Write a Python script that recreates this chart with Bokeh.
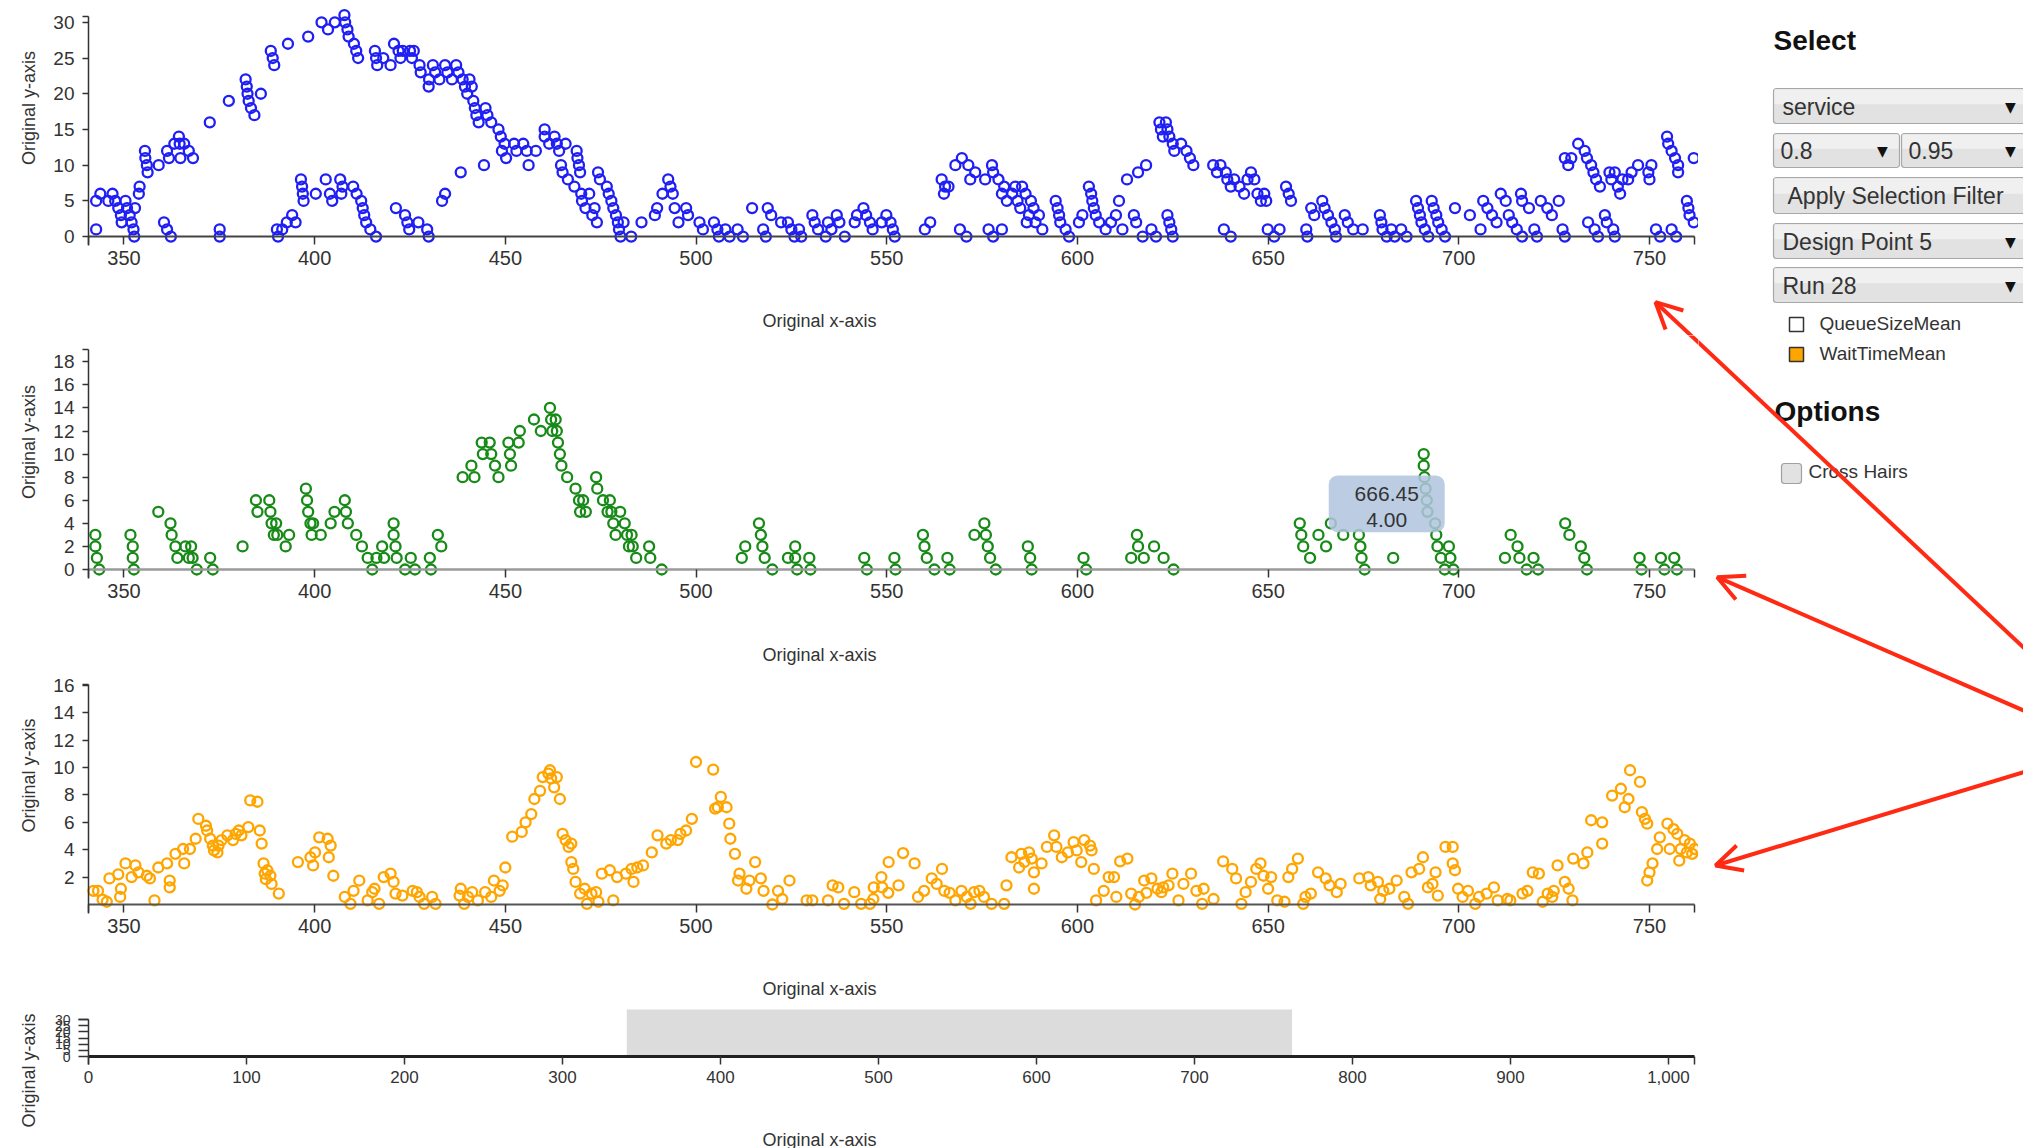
import math
from bokeh.plotting import figure
from bokeh.models import (Range1d, FixedTicker, Label, Arrow, OpenHead,
                          BoxAnnotation, NumeralTickFormatter)
from bokeh.layouts import column, row
from bokeh.embed import file_html
from bokeh.resources import INLINE
from bokeh.core.properties import value

# ---------------- data ----------------
service_points = [
    (342.7,5),(342.7,1),(343.8,6),(345.9,5),(347,6),(347.7,5),(348.5,4),(349.2,3),(349.4,2),(350.4,5),
    (350.8,4),(351.5,3),(352,2),(352.5,1),(352.7,0),(352.9,4),(353.9,6),(354.1,7),(355.5,12),(355.6,11),
    (356,10),(356.2,9),(359.1,10),(360.5,2),(361.3,1),(362.3,0),(361.3,12),(361.8,11),(363.2,13),(364.4,14),
    (364.6,13),(364.8,11),(365.8,13),(367,12),(368.1,11),(372.5,16),(375.1,1),(375.1,0),(377.5,19),(381.9,22),
    (382.2,21),(382.4,20),(382.7,19),(383.3,18),(384.2,17),(385.9,20),(388.5,26),(389,25),(389.4,24),(390.1,1),
    (390.4,0),(391.5,1),(392.7,2),(394.1,3),(395,2),(393,27),(396.4,8),(396.7,7),(396.9,6),(397.1,5),
    (398.3,28),(400.3,6),(401.8,30),(403.5,29),(405.3,30),(402.9,8),(404,6),(404.6,5),(406.7,8),(407.3,7),
    (407,6),(407.8,31),(408,30),(408.6,29),(408.9,28),(410.3,27),(410.9,26),(411.4,25),(410.1,7),(411,6),
    (412.2,5),(412.6,4),(413,3),(413.5,2),(414.6,1),(416.1,0),(415.8,26),(416.1,25),(416.4,24),(418,25),
    (419.9,24),(420.8,27),(421.3,4),(422,26),(422.5,25),(423.1,26),(423.7,3),(424.3,2),(424.8,1),(425,26),
    (425.5,25),(426,26),(427.2,2),(427.5,24),(427.8,23),(429.5,1),(429.9,0),(429.9,21),(430,22),(431,24),
    (431.6,23),(432.7,22),(433.4,5),(434.2,6),(434.2,24),(434.8,23),(436,22),(437.1,24),(437.7,23),(438.3,9),
    (438.8,22),(439.4,21),(440,20),(440.6,22),(441.2,21),(441.6,19),(442,18),(442.4,17),(443,16),(444.4,10),
    (444.8,18),(445.3,17),(446.3,16),(448.2,15),(448.8,14),(449.1,12),(449.8,13),(450.2,11),(452.3,13),(452.9,12),
    (454.7,13),(455.6,12),(456.1,10),(458,12),(460.3,15),(460.3,14),(461.5,13),(462.9,14),(463.5,13),(464.1,12),
    (464.6,10),(465,9),(465.8,13),(466.4,8),(468.1,7),(468.7,12),(468.9,11),(469.3,10),(469.6,9),(469.9,6),
    (470.1,5),(471,4),(472,6),(472.8,3),(473.4,4),(474,2),(474.3,9),(474.8,8),(476.6,7),(477.1,6),
    (477.8,5),(478.3,4),(479,3),(479.5,2),(479.8,1),(480.2,0),(481,2),(483,0),(485.7,2),(489.2,3),
    (489.8,4),(491.2,6),(492.7,8),(493.3,7),(493.9,6),(494.4,4),(495.4,2),(497.4,4),(497.9,3),(500.9,2),
    (501.8,1),(504.7,2),(505.6,1),(506,0),(507.7,1),(508.8,0),(510.9,1),(512.3,0),(514.7,4),(517.6,1),
    (518.3,0),(518.8,4),(519.7,3),(522.3,2),(524.1,2),(525,1),(525.8,0),(527,1),(527.6,0),(530.5,3),
    (531.1,2),(532,1),(534,0),(534.6,2),(535.5,1),(536.9,3),(537.6,2),(539,0),(541.6,2),(542.2,3),
    (543.9,4),(544.6,3),(545.6,2),(546.3,1),(548.7,2),(549.9,3),(551,2),(551.6,1),(552.1,0),(560,1),
    (561.4,2),(564.4,8),(565,6),(565.3,7),(566.2,7),(568,10),(569.2,1),(569.7,11),(570.9,0),(571.4,10),
    (571.9,8),(573.2,9),(575.8,8),(576.7,1),(577.6,10),(577.9,9),(577.9,0),(579.3,8),(580.2,1),(580.2,6),
    (580.8,7),(581.5,5),(582.9,6),(583.7,7),(584.3,5),(585,4),(585.5,7),(586.4,6),(586.7,2),(587.3,3),
    (587.8,5),(588.5,4),(589,2),(589.9,3),(590.8,1),(594.3,5),(594.8,4),(595.2,3),(595.5,2),(596.9,1),
    (597.8,0),(600.4,2),(601.3,3),(603,7),(603.6,6),(603.9,5),(604.3,4),(604.8,3),(605.7,2),(607.4,1),
    (608.8,2),(610.1,3),(610.9,5),(611.8,1),(613,8),(614.8,3),(615.4,2),(615.9,9),(617.1,0),(618,10),
    (619.4,1),(620.6,0),(621.5,16),(621.9,15),(622.4,14),(623.2,16),(623.6,15),(624.1,14),(623.6,3),(624.1,2),
    (624.6,1),(625,0),(625,13),(625.4,12),(627.2,13),(628.6,12),(629.5,11),(630.4,10),(635.6,10),(636.6,9),
    (637.5,10),(638.4,1),(638.9,9),(639.3,8),(640.2,0),(640.2,7),(641.1,8),(642.5,7),(643.7,6),(644.6,8),
    (645.5,9),(646.4,8),(647.2,6),(648.1,5),(649,6),(649.5,5),(649.9,1),(651.6,0),(653,1),(654.7,7),
    (655.4,6),(656,5),(660,1),(660.3,0),(661.3,4),(662.1,3),(664.2,5),(664.8,4),(665.7,3),(666.6,2),
    (667.5,1),(667.8,0),(670.1,3),(670.9,2),(672.3,1),(674.8,1),(679.3,3),(679.7,2),(680,1),(681.1,0),
    (682.3,1),(683.2,0),(684.9,1),(686.3,0),(688.8,5),(689.3,4),(689.8,3),(690.2,2),(691.1,1),(692,0),
    (692.9,5),(693.4,4),(694.1,3),(694.6,2),(695.5,1),(696.4,0),(699,4),(702.9,3),(705.7,1),(706.4,5),
    (707.5,4),(708.7,3),(709.9,2),(711,6),(712.3,5),(713.1,3),(714,2),(715.2,1),(716.3,6),(716.6,5),
    (716.6,0),(718.4,4),(719.8,1),(720.5,0),(721.5,5),(723.2,4),(724.4,3),(726.2,5),(727.2,1),(727.8,0),
    (727.8,11),(728.7,10),(729.5,11),(731.3,13),(733,12),(733.6,11),(733.9,2),(734.7,10),(735.3,9),(735.6,1),
    (736,8),(736.5,0),(737,7),(738.3,3),(738.8,2),(739.5,9),(740,8),(740.5,1),(740.9,0),(740.9,9),
    (741.7,7),(742.3,6),(742.9,8),(744.4,8),(745.3,9),(747,10),(749.7,9),(750,8),(750.5,10),(751.7,1),
    (752.8,0),(754.6,14),(754.9,13),(755.8,12),(755.8,1),(756.7,11),(757,0),(757.5,10),(757.5,9),(759.8,5),
    (760.2,4),(760.5,3),(761.6,2),(761.6,11),
]

queue_points = [
    (342.5,3),(342.5,2),(342.9,1),(343.5,0),(351.7,3),(352.3,2),(352.3,1),(352.6,0),(359,5),(362.2,4),
    (362.5,3),(363.5,2),(364,1),(366.1,2),(367,1),(367.6,2),(368,1),(369.1,0),(372.6,1),(373.3,0),
    (381.1,2),(384.6,6),(385,5),(388.1,6),(388.4,5),(388.7,4),(389.3,3),(389.9,4),(390.2,3),(392.4,2),
    (393.3,3),(397.7,7),(398,6),(398.3,5),(398.9,4),(399.2,3),(399.6,4),(401.6,3),(404.2,4),(405.2,5),
    (407.9,6),(408.2,5),(408.7,4),(410.9,3),(412.4,2),(413.9,1),(415.1,0),(416.2,1),(417.7,2),(418.2,1),
    (420.7,4),(420.7,3),(421.2,2),(421.5,1),(423.7,0),(425.2,1),(426.3,0),(430.2,1),(430.5,0),(432.3,3),
    (433.2,2),(438.8,8),(441.1,9),(441.9,8),(443.8,11),(444.1,10),(445.9,11),(446.3,10),(447.3,9),(448.2,8),
    (450.8,11),(451.2,10),(451.5,9),(453.5,11),(453.8,12),(457.5,13),(459.3,12),(461.7,14),(462,13),(462.3,12),
    (463.2,13),(463.5,12),(463.8,11),(464.3,10),(464.7,9),(466.2,8),(468.4,7),(469.3,6),(469.6,5),(470.4,6),
    (471.1,5),(473.8,8),(474.1,7),(475.6,6),(476.8,5),(477.4,6),(477.8,5),(478.3,4),(478.9,3),(480.1,5),
    (481.3,4),(481.9,3),(482.4,2),(483.1,3),(483.4,2),(484.3,1),(487.7,2),(488,1),(491,0),(512,1),
    (512.9,2),(516.5,4),(517,3),(517.4,2),(518,1),(520,0),(524.1,1),(526,2),(526,1),(526.5,0),
    (529.7,1),(530,0),(544.1,1),(544.8,0),(552,1),(552.3,0),(559.5,3),(559.9,2),(560.5,1),(562.5,0),
    (565.9,1),(566.5,0),(573,3),(575.6,4),(576,3),(576.5,2),(577.1,1),(578.6,0),(587,2),(587.6,1),
    (588,0),(601.6,1),(602.3,0),(614.1,1),(615.6,3),(615.9,2),(617.4,1),(620.1,2),(622.6,1),(625.2,0),
    (658.3,4),(658.7,3),(659.2,2),(661,1),(663.2,3),(665.2,2),(666.45,4),(669.7,3),(673.8,3),(674.2,2),
    (674.5,1),(675.3,0),(682.8,1),(690.8,10),(690.8,9),(691,8),(691.3,7),(691.6,6),(691.8,5),(693.8,4),
    (694.1,3),(694.4,2),(695.3,1),(696.3,0),(697.4,2),(697.8,1),(698.6,0),(712.1,1),(713.6,3),(715.4,2),
    (715.9,1),(717.8,0),(719.6,1),(720.8,0),(727.9,4),(729,3),(732,2),(732.9,1),(733.6,0),(747.4,1),
    (747.9,0),(753,1),(753.9,0),(756.5,1),(757.2,0),
]

wait_points = [
    (342,1),(343.2,1),(344.4,0.35),(345.5,0.2),(346.2,1.9),(348.5,2.2),(349,0.55),(349.2,1.15),(350.4,3),(352,2),
    (353,2.85),(353.8,2.35),(356,2.1),(356.8,1.9),(358,0.3),(359,2.7),(361.3,3),(362,1.75),(362,1.25),(363.5,3.7),
    (365.5,4.05),(365.8,3),(367.3,4.05),(368.8,4.8),(369.5,6.25),(371.5,5.75),(371.8,5.4),(372.6,4.8),(373.3,4.3),(373.6,3.95),
    (374.5,3.8),(374.8,4.3),(375.6,4.7),(377.1,5.05),(378.6,4.7),(379.3,5.15),(380.1,5.4),(380.8,5.05),(382.6,5.65),(383.1,7.6),
    (385,7.5),(385.6,5.4),(386.1,4.45),(386.6,3),(386.9,2.25),(387.2,1.85),(387.6,2.5),(388.4,2.1),(388.7,1.5),(390.6,0.8),
    (395.6,3.1),(398.9,3.45),(399.6,2.85),(400.1,3.8),(401.2,4.9),(403.4,4.8),(403.7,3.45),(404.2,4.3),(404.9,2.1),(407.9,0.55),
    (409.4,0.05),(410.2,1),(411.7,1.75),(413.9,0.3),(415.1,0.9),(415.7,1.15),(416.9,0.05),(418.1,2),(419.9,2.25),(420.7,1.65),
    (421.2,0.8),(423,0.65),(425.7,1),(426.8,0.9),(427.5,0.55),(428.7,0.05),(430.8,0.55),(431.7,0.05),(438,0.65),(438.3,1.15),
    (439.2,0.05),(440.2,0.55),(441.3,0.9),(442.8,0.3),(444.7,0.9),(446.3,0.55),(447,1.75),(448.5,1),(449.3,1.4),(450,2.7),
    (451.8,4.95),(454.3,5.3),(455.3,6),(456.8,6.6),(457.6,7.7),(459.1,8.3),(459.8,9.3),(461.3,9.55),(461.7,9.8),(462,9.2),
    (462.8,8.55),(463.5,9.3),(464.3,7.7),(465,5.15),(465.8,4.7),(466.6,4.2),(467.3,4.45),(467.3,3.1),(467.8,2.6),(468.4,1.65),
    (469.6,0.8),(470.8,1.15),(471.4,0.05),(472.6,0.8),(473.8,0.9),(474.4,0.2),(475.3,2.25),(477.4,2.5),(478.3,0.3),(479.3,2),
    (481.6,2.25),(483.1,2.6),(483.6,1.65),(484.6,2.7),(486.1,2.85),(488.4,3.8),(489.9,5.05),(492.2,4.45),(493.4,4.7),(495.2,4.7),
    (495.9,5.15),(497.4,5.4),(498.9,6.25),(500,10.4),(504.5,9.85),(505,7),(505.7,7.1),(506.5,7.85),(508,7.1),(508.7,5.9),
    (509,4.8),(510.2,3.7),(511,1.75),(511.4,2.25),(513.2,1.15),(514,1.75),(515.5,3.1),(517,1.9),(517.7,1),(520,0),
    (521.5,1),(522.6,0.4),(524.5,1.75),(529,0.3),(530.5,0.3),(534.6,0.3),(535.8,1.4),(537.3,1.25),(538.8,0.05),(541.5,0.9),
    (543.3,0.05),(545.6,0.05),(546.5,0.4),(546.6,1.25),(548.6,2),(548.8,1.25),(550.4,0.85),(550.5,3.1),(553.1,1.4),(554.3,3.75),
    (557.3,3),(558.2,0.55),(559.8,1),(561.8,1.9),(563.1,1.5),(564.5,2.6),(565.1,1),(566.5,0.85),(568,0.3),(569.6,1),
    (571,0.55),(572,0.05),(572.9,0.9),(574.3,1),(575.5,0.55),(577.5,0.05),(580.8,0.05),(581.4,1.4),(582.7,3.45),(584.7,2.7),
    (585.3,3.7),(586.1,3.1),(587.3,3.8),(588,3.35),(588.6,2.35),(588.6,1.15),(590.6,3),(592,4.2),(593.9,5.05),(594.5,4.2),
    (595.9,3.45),(597.5,3.8),(599,4.55),(599.8,3.95),(601,3.1),(601.8,4.7),(603.3,4.3),(603.7,3.95),(604.3,2.6),(604.9,0.3),
    (606.9,1),(608.2,2),(609.6,2),(610.2,0.55),(611.2,3.15),(613.1,3.35),(614.1,0.8),(615.1,0),(616.1,0.55),(617.5,1.75),
    (618.1,0.85),(619.4,1.9),(621,1.15),(622,0.9),(622.5,1.25),(623.9,1.4),(624.9,2.25),(626.5,0.3),(627.8,1.5),(629.8,2.25),
    (631.2,1),(633.1,1.15),(632.7,0.05),(635.7,0.4),(638.2,3.15),(640.6,2.6),(641.6,1.9),(643,0.05),(644.1,0.9),(645.5,1.65),
    (646.9,2.6),(648,3),(648.8,2.1),(650,1.15),(650.8,2),(652.4,0.3),(654.3,0.2),(655.3,2),(656.3,2.6),(657.8,3.35),
    (659.2,0.05),(659.8,0.55),(661.2,0.8),(663.1,2.35),(665.1,1.9),(666.1,1.4),(668,0.9),(669,1.5),(673.9,1.9),(676.3,2),
    (676.9,1.4),(678.8,1.65),(679.4,0.4),(680.2,1),(681.8,1.15),(683.7,1.75),(685.7,0.55),(686.7,0.05),(687.6,2.35),(689.6,2.6),
    (690.6,3.45),(691.9,1.25),(693.1,1.5),(693.9,2.35),(694.5,0.65),(696.5,4.2),(698.4,4.2),(698.4,3),(699,2.5),(699.8,1.15),
    (701,0.55),(702.4,1),(704.3,0.05),(705.3,0.55),(707.3,0.8),(709.2,1.25),(710.2,0.3),(712.7,0.4),(713.5,0.3),(716.7,0.8),
    (718,1),(719.4,2.35),(721,2.25),(722,0.2),(723.3,0.8),(724.5,0.55),(724.9,1),(725.9,2.85),(727.8,1.65),(728.8,1.15),
    (729.8,0.3),(730,3.35),(732.7,3),(733.7,3.8),(734.7,6.15),(737.6,6),(737.6,4.45),(740.2,7.95),(742.5,8.45),(743.5,7.1),
    (744.5,7.7),(744.9,9.8),(747.5,8.95),(748,6.75),(748.8,6.25),(749.4,5.9),(749.4,1.75),(750,2.35),(750.8,3),(752,4.05),
    (752.7,4.9),(754.7,5.9),(755.3,4.05),(756.3,5.5),(757.3,5.15),(757.8,3.2),(758.2,4.05),(759.2,4.7),(759.8,3.8),(760.6,4.45),
    (761.2,3.7),(761.8,4.05),
]

detail_x_ticks = [350, 400, 450, 500, 550, 600, 650, 700, 750]
service_y_ticks = [0, 5, 10, 15, 20, 25, 30]
queue_y_ticks = [0, 2, 4, 6, 8, 10, 12, 14, 16, 18]
wait_y_ticks = [2, 4, 6, 8, 10, 12, 14, 16]
overview_x_ticks = [0, 100, 200, 300, 400, 500, 600, 700, 800, 900, 1000]
overview_y_ticks = [0, 5, 10, 15, 20, 25, 30]
detail_window = [340.7, 761.8]      # brushed x-extent shown in the three detail plots
overview_domain = [0, 1016.5]
service_y_max, queue_y_max, wait_y_max, overview_y_max = 30.8, 19.06, 16.06, 30
hover_point = (666.45, 4.00)

menu_service = "service"
menu_low, menu_high = "0.8", "0.95"
menu_button = "Apply Selection Filter"
menu_design = "Design Point 5"
menu_run = "Run 28"
check_labels = ["QueueSizeMean", "WaitTimeMean"]
option_label = "Cross Hairs"

# ---------------- layout constants (window pixels) ----------------
FONT = "Liberation Sans"
LEFT = 88            # x pixel of the detail axes' left end
AXIS_W = 1606        # pixel length of the x axes
PLOT_W = 1698        # width of the plot column
KX = AXIS_W / (detail_window[1] - detail_window[0])
RED = "#ff2a14"
# arrows in window pixel coordinates: (start, tip)
arrow1 = ((2060, 681.6), (1655, 301.7))
arrow2 = ((2060, 726.1), (1716.7, 576.7))
arrow3 = ((2060, 760.5), (1715, 865))


def split(points):
    return [p[0] for p in points], [p[1] for p in points]


def make_fig(gtop, height, gzero, ky, xdomain, kx):
    """Figure whose frame is the whole canvas; axes are pinned with fixed_location."""
    xr = (xdomain[0] - LEFT / kx, xdomain[0] + (PLOT_W - LEFT) / kx)
    yr = (-(gtop + height - gzero) / ky, (gzero - gtop) / ky)
    p = figure(width=PLOT_W, height=height, x_range=Range1d(*xr), y_range=Range1d(*yr),
               output_backend="svg", toolbar_location=None,
               min_border=0, min_border_left=0, min_border_right=0,
               min_border_top=0, min_border_bottom=0)
    p.grid.visible = False
    p.outline_line_color = None
    p.background_fill_color = "white"
    p.border_fill_color = "white"
    p.xaxis.fixed_location = 0
    p.yaxis.fixed_location = xdomain[0]
    return p


def style_axes(p, xticks, xdomain, yticks, ymax, ky, xline, xline_w, xsize="20px", ysize="19px"):
    xa = p.xaxis[0]
    xa.ticker = FixedTicker(ticks=xticks, minor_ticks=list(xdomain))
    xa.bounds = tuple(xdomain)
    xa.axis_line_color = xline
    xa.axis_line_width = xline_w
    for pre in ("major", "minor"):
        setattr(xa, pre + "_tick_in", 0)
        setattr(xa, pre + "_tick_out", 8)
        setattr(xa, pre + "_tick_line_color", "#333333")
        setattr(xa, pre + "_tick_line_width", 1.5)
    xa.major_label_text_font = FONT
    xa.major_label_text_font_size = xsize
    xa.major_label_text_color = "#333333"
    xa.major_label_standoff = 6
    ya = p.yaxis[0]
    ya.ticker = FixedTicker(ticks=yticks, minor_ticks=[ymax])
    ya.bounds = (-9 / ky, ymax)
    ya.axis_line_color = "#333333"
    ya.axis_line_width = 1.5
    for pre in ("major", "minor"):
        setattr(ya, pre + "_tick_in", 0)
        setattr(ya, pre + "_tick_out", 6)
        setattr(ya, pre + "_tick_line_color", "#333333")
        setattr(ya, pre + "_tick_line_width", 1.5)
    ya.major_label_text_font = FONT
    ya.major_label_text_font_size = ysize
    ya.major_label_text_color = "#333333"
    ya.major_label_standoff = 8


def axis_titles(p, height, x_center_y, y_center_y, gtop):
    # positions given as window pixels; converted to this canvas (screen units, y up)
    p.add_layout(Label(x=819, y=gtop + height - x_center_y, x_units="screen", y_units="screen",
                       text="Original x-axis", text_font=FONT, text_font_size="18px",
                       text_color="#333333", text_align="center", text_baseline="middle"))
    p.add_layout(Label(x=28, y=gtop + height - y_center_y, x_units="screen", y_units="screen",
                       angle=math.pi / 2, text="Original y-axis", text_font=FONT,
                       text_font_size="18px", text_color="#333333",
                       text_align="center", text_baseline="middle"))


def add_points(p, points, color):
    xs, ys = split(points)
    p.scatter(xs, ys, marker="circle", size=10, fill_color=None, line_color=color, line_width=2.3)


def add_arrow_screen(p, arrow, gtop, height, head=True):
    (gx0, gy0), (gx1, gy1) = arrow
    p.add_layout(Arrow(x_start=gx0, y_start=gtop + height - gy0,
                       x_end=gx1, y_end=gtop + height - gy1,
                       start_units="screen", end_units="screen",
                       line_color=RED, line_width=4,
                       end=OpenHead(size=26, line_color=RED, line_width=4) if head else None))


# ---- plot 1 (service): window y 0..335 ----
k1 = 7.143
p1 = make_fig(0, 335, 236.1, k1, detail_window, KX)
style_axes(p1, detail_x_ticks, detail_window, service_y_ticks, service_y_max, k1, "#444444", 2)
add_points(p1, service_points, "#1f1ff5")
axis_titles(p1, 335, 320, 107.5, 0)
add_arrow_screen(p1, arrow1, 0, 335)

# ---- plot 2 (queue): window y 335..667 ----
k2 = 11.54
p2 = make_fig(335, 332, 569, k2, detail_window, KX)
style_axes(p2, detail_x_ticks, detail_window, queue_y_ticks, queue_y_max, k2, "#9a9a9a", 2.5)
add_points(p2, queue_points, "#178a17")
axis_titles(p2, 332, 654, 441.5, 335)
add_arrow_screen(p2, arrow1, 335, 332, head=False)
hx, hy = hover_point
p2.add_layout(BoxAnnotation(left=665.9, right=696.3, top=8.15, bottom=3.23,
                            fill_color="#b0c4de", fill_alpha=0.85, line_color=None,
                            border_radius=9, level="overlay"))
p2.add_layout(Label(x=681.1, y=6.56, text=f"{hx:.2f}", text_font=FONT, text_font_size="21px",
                    text_color="#333333", text_align="center", text_baseline="middle", level="overlay"))
p2.add_layout(Label(x=681.1, y=4.25, text=f"{hy:.2f}", text_font=FONT, text_font_size="21px",
                    text_color="#333333", text_align="center", text_baseline="middle", level="overlay"))

# ---- plot 3 (wait time): window y 667..1004 ----
k3 = 13.7
p3 = make_fig(667, 337, 904, k3, detail_window, KX)
style_axes(p3, detail_x_ticks, detail_window, wait_y_ticks, wait_y_max, k3, "#555555", 2)
add_points(p3, wait_points, "#ffa500")
axis_titles(p3, 337, 988, 775, 667)

# ---- overview / brush: window y 1004..1148 ----
k4 = 1.233
kx4 = AXIS_W / (overview_domain[1] - overview_domain[0])
p4 = make_fig(1004, 144, 1056, k4, overview_domain, kx4)
style_axes(p4, overview_x_ticks, overview_domain, overview_y_ticks, overview_y_max, k4,
           "#222222", 3, xsize="17px", ysize="14px")
p4.xaxis[0].formatter = NumeralTickFormatter(format="0,0")
ya4 = p4.yaxis[0]
ya4.bounds = (0, overview_y_max)
ya4.major_tick_out = 10
ya4.minor_tick_out = 10
ya4.major_label_standoff = 8
p4.add_layout(BoxAnnotation(left=detail_window[0], right=detail_window[1], bottom=0,
                            top=(1056 - 1009) / k4, fill_color="#dcdcdc", fill_alpha=1.0,
                            line_color=None, level="underlay"))
axis_titles(p4, 144, 1139, 1070, 1004)

# ---- right-hand control panel: window x 1698..2023 ----
pn = figure(width=325, height=1148, x_range=Range1d(1698, 2023), y_range=Range1d(1148, 0),
            output_backend="svg", toolbar_location=None, x_axis_type=None, y_axis_type=None,
            min_border=0, min_border_left=0, min_border_right=0, min_border_top=0, min_border_bottom=0)
pn.grid.visible = False
pn.outline_line_color = None
pn.background_fill_color = "white"
pn.border_fill_color = "white"

box_l = [1773, 1773, 1901, 1773, 1773, 1773]
box_r = [2040, 1899, 2040, 2040, 2040, 2040]
box_t = [88, 133, 133, 177, 223, 267]
box_b = [123, 167, 167, 213, 258, 302]
pn.quad(left=box_l, right=box_r, top=box_t, bottom=box_b, fill_color="#e2e2e2",
        line_color="#a8a8a8", line_width=1.2, border_radius=3)
pn.quad(left=[l + 1 for l in box_l], right=[r - 1 for r in box_r], top=[t + 1 for t in box_t],
        bottom=[t + (b - t) * 0.45 for t, b in zip(box_t, box_b)], fill_color="#f0f0f0", line_color=None)

pn.text(x=[1782, 1780, 1908, 1782, 1782], y=[106, 150, 150, 241, 285],
        text=[menu_service, menu_low, menu_high, menu_design, menu_run],
        text_font=value(FONT), text_font_size=value("23px"), text_color="#333333",
        text_baseline="middle", text_align="left")
pn.text(x=[1787], y=[195], text=[menu_button], text_font=value(FONT), text_font_size=value("23px"),
        text_color="#333333", text_baseline="middle", text_align="left")
pn.text(x=[2010, 1882, 2010, 2010, 2010], y=[106, 150, 150, 241, 285], text=["\u25bc"] * 5,
        text_font=value("DejaVu Sans"), text_font_size=value("14px"), text_color="#111111",
        text_baseline="middle", text_align="center")

pn.text(x=[1773, 1774], y=[40, 411], text=["Select", "Options"], text_font=value(FONT),
        text_font_size=value("28px"), text_font_style="bold", text_color="#111111",
        text_baseline="middle", text_align="left")

pn.quad(left=[1789, 1789], right=[1803, 1803], top=[317, 347], bottom=[331, 361],
        fill_color=["white", "#ffa500"], line_color="#333333", line_width=1.5)
pn.text(x=[1819, 1819], y=[323, 353], text=check_labels, text_font=value(FONT),
        text_font_size=value("19px"), text_color="#333333", text_baseline="middle")
pn.quad(left=[1781], right=[1801], top=[463], bottom=[483], fill_color="#e2e2e2",
        line_color="#a0a0a0", line_width=1.2, border_radius=3)
pn.text(x=[1808], y=[471], text=[option_label], text_font=value(FONT),
        text_font_size=value("19px"), text_color="#333333", text_baseline="middle")

for arr in (arrow1, arrow2, arrow3):
    (gx0, gy0), (gx1, gy1) = arr
    pn.add_layout(Arrow(x_start=gx0, y_start=gy0, x_end=gx1, y_end=gy1,
                        line_color=RED, line_width=4,
                        end=OpenHead(size=26, line_color=RED, line_width=4)))

layout = row(column(p1, p2, p3, p4, spacing=0), pn, spacing=0)
open("out.html", "w").write(file_html(layout, INLINE))
